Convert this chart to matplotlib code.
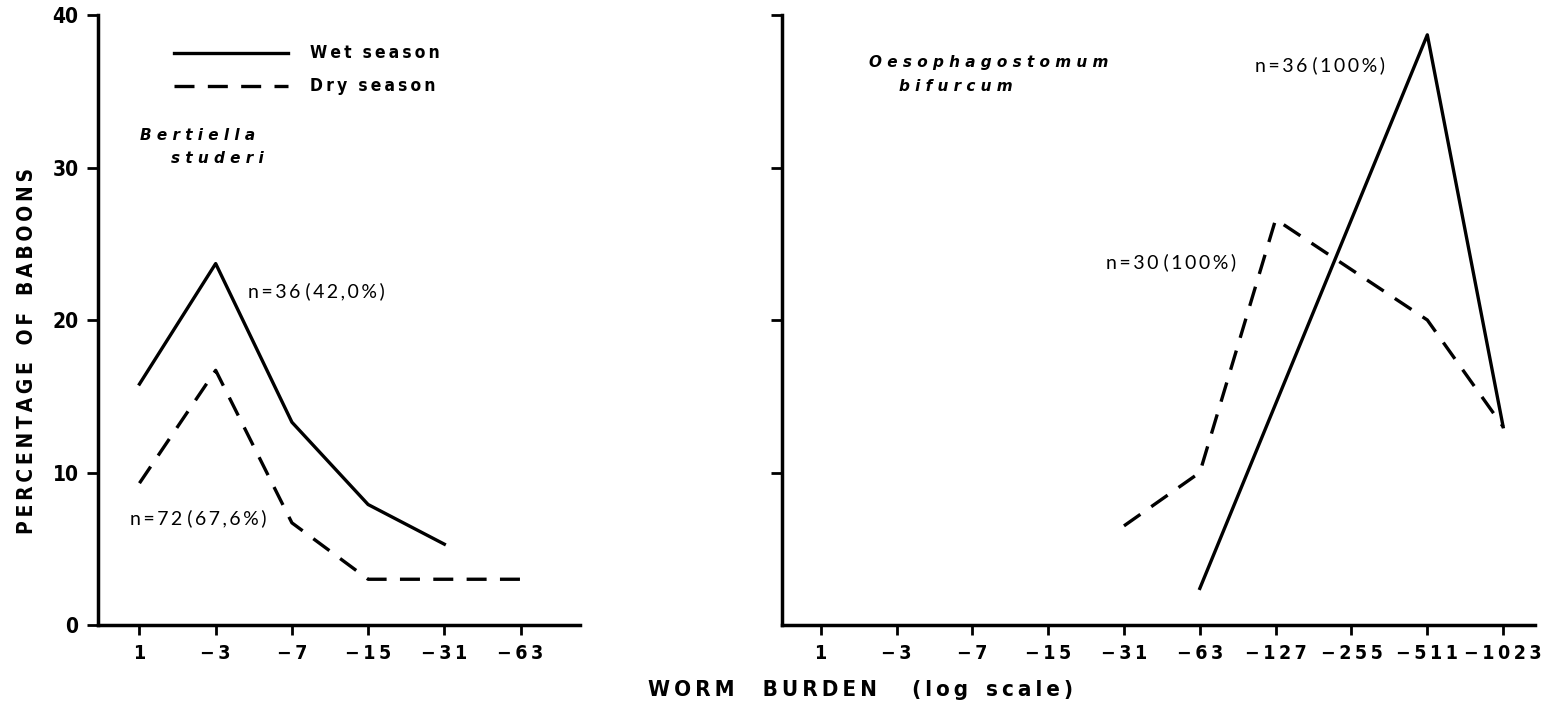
import matplotlib
matplotlib.use("Agg")
import matplotlib.pyplot as plt
from matplotlib import font_manager
from matplotlib.font_manager import FontProperties

# ---------------- data ----------------
left_labels = ['1', '\u22123', '\u22127', '\u221215', '\u221231', '\u221263']
right_labels = ['1', '\u22123', '\u22127', '\u221215', '\u221231', '\u221263',
                '\u2212127', '\u2212255', '\u2212511', '\u22121023']

bert_wet_cats = ['1', '\u22123', '\u22127', '\u221215', '\u221231']
bert_wet_vals = [15.8, 23.7, 13.3, 7.9, 5.3]
bert_dry_cats = ['1', '\u22123', '\u22127', '\u221215', '\u221231', '\u221263']
bert_dry_vals = [9.3, 16.7, 6.7, 3.0, 3.0, 3.0]

oeso_wet_cats = ['\u221263', '\u2212511', '\u22121023']
oeso_wet_vals = [2.4, 38.7, 13.0]
oeso_dry_cats = ['\u221231', '\u221263', '\u2212127', '\u2212511', '\u22121023']
oeso_dry_vals = [6.5, 10.0, 26.6, 20.0, 13.0]

y_ticks = [0, 10, 20, 30, 40]

# ---------------- fonts ----------------
def _w(f):
    w = f.weight
    if isinstance(w, str):
        w = font_manager.weight_dict.get(w, 400)
    return w

def find_condensed_bold():
    prefs = ['Liberation Sans Narrow', 'Noto Sans', 'Open Sans', 'Roboto',
             'DejaVu Sans', 'Noto Sans Condensed', 'Roboto Condensed']
    cands = []
    for f in font_manager.fontManager.ttflist:
        cond = (f.stretch in ('condensed', 'semi-condensed', 'extra-condensed')
                or 'Condensed' in f.name or 'Narrow' in f.name)
        if cond and 600 <= _w(f) <= 750 and f.style == 'normal' and 'Mono' not in f.name:
            rank = prefs.index(f.name) if f.name in prefs else 50
            cands.append((rank, f.fname))
    cands.sort()
    return cands[0][1] if cands else None

cb = find_condensed_bold()

def tickfont(size):
    if cb:
        return FontProperties(fname=cb, size=size)
    return FontProperties(family=['Liberation Sans', 'DejaVu Sans'], weight='bold', size=size)

def sp(s, sep='\u2009'):
    return sep.join(s)

ANNFONT = ['Lato', 'DejaVu Sans']

W, H = 1555, 710
fig = plt.figure(figsize=(W / 100, H / 100), dpi=100)

ax1 = fig.add_axes([98 / W, 1 - 625 / H, (580 - 98) / W, 610 / H])
ax2 = fig.add_axes([782 / W, 1 - 625 / H, (1535 - 782) / W, 610 / H])

LW = 2.4
DASH = (0, (6, 4))

def style(ax, labels, xlim, show_ylabels):
    ax.set_ylim(0, 40)
    ax.set_xlim(*xlim)
    for s in ['top', 'right']:
        ax.spines[s].set_visible(False)
    for s in ['left', 'bottom']:
        ax.spines[s].set_linewidth(2.5)
    ax.set_xticks(range(len(labels)))
    ax.set_xticklabels([sp(l) for l in labels], fontproperties=tickfont(14))
    if show_ylabels:
        ax.set_yticks(y_ticks)
        ax.set_yticklabels([str(v) for v in y_ticks], fontproperties=tickfont(15))
    else:
        ax.set_yticks(y_ticks[1:])
        ax.set_yticklabels([])
    ax.tick_params(axis='x', length=7, width=2, pad=7, direction='out')
    ax.tick_params(axis='y', length=8, width=2, pad=6, direction='out')
    ax.patch.set_visible(False)

style(ax1, left_labels, (-0.544, 5.78), True)
style(ax2, right_labels, (-0.51, 9.42), False)

# ---------------- left panel ----------------
ax1.plot([left_labels.index(c) for c in bert_wet_cats], bert_wet_vals,
         color='black', lw=LW, clip_on=False)
ax1.plot([left_labels.index(c) for c in bert_dry_cats], bert_dry_vals,
         color='black', lw=LW, linestyle=DASH, clip_on=False)

# legend
ax1.plot([0.45, 1.95], [37.5, 37.5], color='black', lw=LW)
ax1.plot([0.45, 1.95], [35.35, 35.35], color='black', lw=LW, linestyle=DASH)
ax1.text(2.24, 37.5, sp('Wet') + '  ' + sp('season'), fontproperties=tickfont(12.5),
         va='center', ha='left')
ax1.text(2.24, 35.35, sp('Dry') + '  ' + sp('season'), fontproperties=tickfont(12.5),
         va='center', ha='left')

ax1.text(0.01, 32.1, sp('Bertiella', ' '), fontsize=11, fontweight='bold',
         fontstyle='italic', fontfamily=['DejaVu Sans'], va='center', ha='left')
ax1.text(0.42, 30.6, sp('studeri', ' '), fontsize=11, fontweight='bold',
         fontstyle='italic', fontfamily=['DejaVu Sans'], va='center', ha='left')

ax1.text(1.43, 21.9, sp('n=36') + ' ' + sp('(42,0%)'), fontsize=14,
         fontfamily=ANNFONT, va='center', ha='left')
ax1.text(-0.12, 7.0, sp('n=72') + ' ' + sp('(67,6%)'), fontsize=14,
         fontfamily=ANNFONT, va='center', ha='left')

# ---------------- right panel ----------------
ax2.plot([right_labels.index(c) for c in oeso_wet_cats], oeso_wet_vals,
         color='black', lw=LW, clip_on=False)
ax2.plot([right_labels.index(c) for c in oeso_dry_cats], oeso_dry_vals,
         color='black', lw=LW, linestyle=DASH, clip_on=False)

ax2.text(0.64, 36.9, sp('Oesophagostomum', ' '), fontsize=11, fontweight='bold',
         fontstyle='italic', fontfamily=['DejaVu Sans'], va='center', ha='left')
ax2.text(1.03, 35.3, sp('bifurcum', ' '), fontsize=11, fontweight='bold',
         fontstyle='italic', fontfamily=['DejaVu Sans'], va='center', ha='left')

ax2.text(5.73, 36.7, sp('n=36') + ' ' + sp('(100%)'), fontsize=14,
         fontfamily=ANNFONT, va='center', ha='left')
ax2.text(3.76, 23.8, sp('n=30') + ' ' + sp('(100%)'), fontsize=14,
         fontfamily=ANNFONT, va='center', ha='left')

# ---------------- axis titles ----------------
fig.text(27 / W, 1 - 351 / H,
         sp('PERCENTAGE') + '\u2009  ' + sp('OF') + '\u2009  ' + sp('BABOONS'),
         rotation=90, fontproperties=tickfont(15), ha='center', va='center')
fig.text(648 / W, 1 - 690 / H,
         sp('WORM') + '    ' + sp('BURDEN') + '     ' + sp('(log') + '\u2009  ' + sp('scale)'),
         fontproperties=tickfont(16), ha='left', va='center')

fig.savefig('out.png', dpi=100)
